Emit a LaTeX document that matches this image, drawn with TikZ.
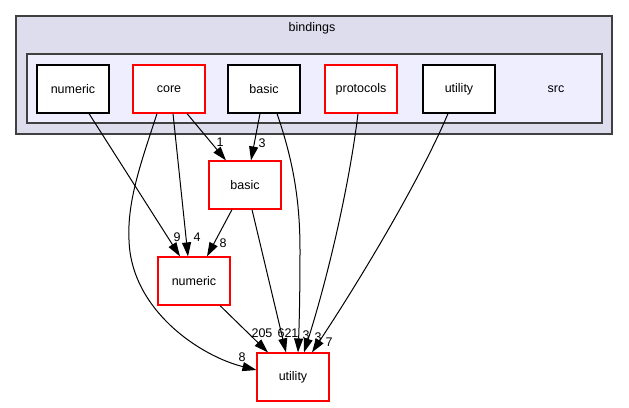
\documentclass[tikz,border=0pt]{standalone}
\usepackage{fontspec}
\setmainfont{Liberation Sans}
\usetikzlibrary{arrows.meta}
\definecolor{outerfill}{HTML}{DDDDEE}
\definecolor{innerfill}{HTML}{EEEEFF}
\definecolor{clusterline}{HTML}{404040}
\definecolor{dirred}{HTML}{FF0000}
\tikzset{
  dirbox/.style={draw=black, fill=white, line width=1.15pt, minimum width=72pt, minimum height=48pt, inner sep=0pt, font=\fontsize{12.5}{14}\selectfont},
  reddir/.style={draw=dirred, fill=white, line width=1.15pt, minimum width=72pt, minimum height=48pt, inner sep=0pt, font=\fontsize{12.5}{14}\selectfont},
  dep/.style={draw=black, line width=1pt, -{Triangle[length=14pt,width=9pt]}},
  cnt/.style={font=\fontsize{12.5}{14}\selectfont, inner sep=0pt},
  cluster/.style={draw=clusterline, line width=1.4pt}
}
\begin{document}
\begin{tikzpicture}[x=1pt,y=-1pt]
\useasboundingbox (0,0) rectangle (629,407);
% clusters
\draw[cluster, fill=outerfill] (16,16) rectangle (612,134);
\node[font=\fontsize{12.5}{14}\selectfont] (bindlbl) at (312,28) {bindings};
\draw[cluster, fill=innerfill] (27,54) rectangle (602,123);
\node[font=\fontsize{12.5}{14}\selectfont] (srclbl) at (556,89) {src};
% nodes inside
\node[dirbox] (numtop) at (73,89) {numeric};
\node[reddir] (coretop) at (169,89) {core};
\node[dirbox] (basictop) at (264,89) {basic};
\node[reddir] (prottop) at (361,89) {protocols};
\node[dirbox] (utiltop) at (459,89) {utility};
% lower nodes
\node[reddir] (basic) at (245,185) {basic};
\node[reddir] (numeric) at (194,281) {numeric};
\node[reddir] (utility) at (293,377) {utility};
% edges
\draw[dep] ([xshift=16pt]numtop.south) -- ([xshift=-14pt]numeric.north);
\node[cnt] (l9) at (177,237) {9};
\draw[dep] ([xshift=4pt]coretop.south) -- ([xshift=-6pt]numeric.north);
\node[cnt] (l4) at (197,237) {4};
\draw[dep] ([xshift=18pt]coretop.south) -- ([xshift=-19pt]basic.north);
\node[cnt] (l1) at (220,142) {1};
\draw[dep] ([xshift=-12pt]coretop.south) .. controls (142,160) and (127,200) .. (129,240)
   .. controls (131,310) and (200,356) .. ([yshift=7pt]utility.west);
\node[cnt] (l8a) at (242,357) {8};
\draw[dep] ([xshift=-4pt]basictop.south) -- ([xshift=6pt]basic.north);
\node[cnt] (l3a) at (262,143) {3};
\draw[dep] ([xshift=13pt]basictop.south) .. controls (293,160) and (300,200) .. (300,250)
   .. controls (300,300) and (299,330) .. ([xshift=5pt]utility.north);
\node[cnt] (l3b) at (306,335) {3};
\draw[dep] ([xshift=7pt]basic.south) -- ([xshift=-7pt]utility.north);
\node[cnt] (l621) at (288,333) {621};
\draw[dep] ([xshift=-3pt]prottop.south) .. controls (350,180) and (330,270) .. ([xshift=11pt]utility.north);
\node[cnt] (l3c) at (318,337) {3};
\draw[dep] ([xshift=-11pt]utiltop.south) .. controls (420,180) and (360,280) .. ([xshift=19pt]utility.north);
\node[cnt] (l7) at (329,342) {7};
\draw[dep] ([xshift=-13pt]basic.south) -- ([xshift=13pt]numeric.north);
\node[cnt] (l8b) at (223,243) {8};
\draw[dep] ([xshift=26pt]numeric.south) -- ([xshift=-25pt]utility.north);
\node[cnt] (l205) at (262,333) {205};
\end{tikzpicture}
\end{document}
